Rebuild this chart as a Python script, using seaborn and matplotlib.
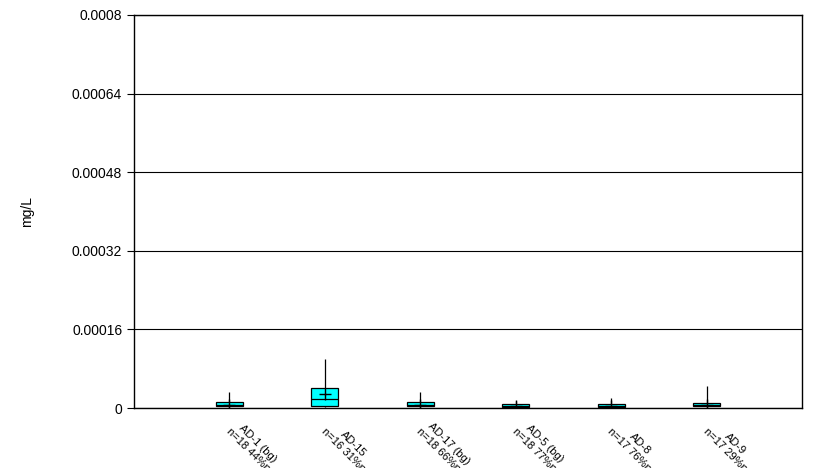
import pandas as pd
import seaborn as sns
import matplotlib.pyplot as plt
import matplotlib.transforms as mtransforms
from matplotlib.ticker import FuncFormatter

# (mg/L)
sites = ['AD-1 (bg)', 'AD-15', 'AD-17 (bg)', 'AD-5 (bg)', 'AD-8', 'AD-9']
counts = ['n=18 44%nd', 'n=16 31%nd', 'n=18 66%nd', 'n=18 77%nd', 'n=17 76%nd', 'n=17 29%nd']
lo = [1.0e-6, 2.0e-6, 1.0e-6, 1.0e-6, 1.0e-6, 1.0e-6]
q1 = [4.5e-6, 4.7e-6, 4.5e-6, 2.6e-6, 2.6e-6, 4.0e-6]
med = [6.0e-6, 1.83e-5, 6.0e-6, 3.5e-6, 3.5e-6, 5.5e-6]
q3 = [1.2e-5, 4.0e-5, 1.2e-5, 8.0e-6, 8.0e-6, 9.5e-6]
hi = [3.3e-5, 1.0e-4, 3.2e-5, 1.4e-5, 2.0e-5, 4.5e-5]
means = [7.0e-6, 2.8e-5, 6.5e-6, 4.0e-6, 4.0e-6, 6.0e-6]

# five-number table per site -> boxplot with whiskers at min/max
rows = []
for i, s in enumerate(sites):
    for v in (lo[i], q1[i], med[i], q3[i], hi[i]):
        rows.append({'site': s, 'val': v})
df = pd.DataFrame(rows)

sns.set_style('white')
plt.rcParams['font.family'] = ['Liberation Sans', 'DejaVu Sans']

fig, ax = plt.subplots(figsize=(8.13, 4.68), dpi=100)
fig.subplots_adjust(left=0.1648, right=0.9865, bottom=0.1282, top=0.968)

sns.boxplot(data=df, x='site', y='val', order=sites, whis=(0, 100), width=0.28,
            color='#00FFFF', linecolor='black', linewidth=0.9, showcaps=False,
            fliersize=0, saturation=1, ax=ax)
sns.pointplot(x=sites, y=means, order=sites, linestyle='none', marker='+',
              markersize=8, markeredgewidth=1, color='black', errorbar=None, ax=ax)

ax.set_xlim(-1, len(sites))
ax.set_ylim(0, 0.0008)
ax.set_yticks([0, 0.00016, 0.00032, 0.00048, 0.00064, 0.0008])
ax.yaxis.set_major_formatter(FuncFormatter(lambda v, p: '%g' % round(v, 6)))
ax.grid(axis='y', color='black', linewidth=0.8)
ax.set_axisbelow(True)
for sp in ax.spines.values():
    sp.set_visible(True)
    sp.set_color('black')
    sp.set_linewidth(1)

ax.tick_params(axis='y', direction='out', length=5, color='black', labelsize=10,
               labelcolor='black', left=True)
ax.tick_params(axis='x', length=0, pad=7)
ax.set_xticks(range(len(sites)))
ax.set_xticklabels([s + '\n' + c for s, c in zip(sites, counts)], rotation=-45,
                   ha='left', va='top', rotation_mode='anchor', multialignment='center',
                   fontsize=8, color='black')
shift = mtransforms.ScaledTranslation(10 / 100, 0, fig.dpi_scale_trans)
for lab in ax.get_xticklabels():
    lab.set_transform(lab.get_transform() + shift)
ax.set_xlabel('')
ax.set_ylabel('mg/L', fontsize=10, color='black')
ax.yaxis.set_label_coords(-0.15, 0.5)

plt.savefig('out.png', dpi=100)
